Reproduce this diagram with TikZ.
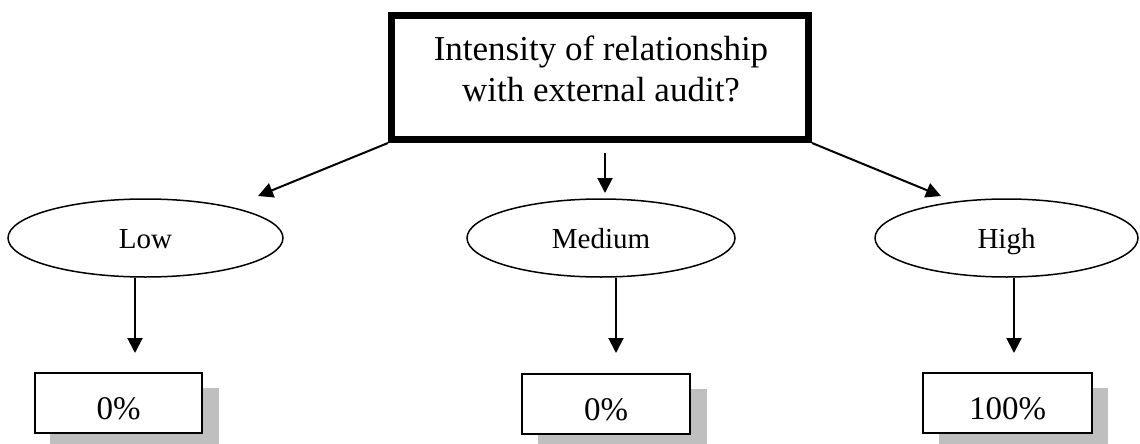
\documentclass[tikz,border=0pt]{standalone}
\usepackage{fontspec}
\setmainfont{Liberation Serif}
\usetikzlibrary{arrows.meta,shapes.geometric}
\begin{document}
\begin{tikzpicture}[x=1pt,y=-1pt,
  arr/.style={line width=2pt,-{Triangle[length=15pt,width=15pt]}},
  choice/.style={ellipse,draw,line width=1.5pt,minimum height=78pt,inner sep=0pt,
    text height=21pt,text depth=0pt,font=\fontsize{29}{34}\selectfont},
  result/.style={draw,line width=2pt,fill=white,minimum width=167pt,inner sep=0pt,
    minimum height=60pt,text height=33pt,text depth=0pt,font=\fontsize{33}{40}\selectfont},
  shade/.style={fill=black!25,draw=none,minimum width=169pt,minimum height=62pt},
  qtext/.style={anchor=base,inner sep=0pt,font=\fontsize{35}{42}\selectfont}]
\useasboundingbox (0,0) rectangle (1140,444);

% question box
\node[draw,line width=7pt,minimum width=417pt,minimum height=124pt,inner sep=0pt] (q) at (600,77.5) {};
\node[qtext] (q1) at (601,60) {Intensity of relationship};
\node[qtext] (q2) at (601,101.5) {with external audit?};

% answer ellipses
\node[choice,minimum width=275pt] (low) at (145.5,238) {Low};
\node[choice,minimum width=268pt] (med) at (601,238) {Medium};
\node[choice,minimum width=263pt] (high) at (1006.5,238) {High};

% shadows behind result boxes
\node[shade] (s1) at (134.5,419) {};
\node[shade] (s2) at (622,419.5) {};
\node[shade] (s3) at (1023.5,419) {};

% result boxes
\node[result] (r1) at (118.5,403) {0\%};
\node[result,minimum width=168pt] (r2) at (606,403.5) {0\%};
\node[result,minimum width=169pt] (r3) at (1007.5,403) {100\%};

% arrow end points
\coordinate (tl) at (258,196);
\coordinate (tr) at (941,196);
\coordinate (mt0) at (605,153);
\coordinate (mt1) at (605,193);
\coordinate (d1) at (135,353);
\coordinate (d2) at (616,353);
\coordinate (d3) at (1014,353);

% connectors
\draw[arr] (q.south west) -- (tl);
\draw[arr] (q.south east) -- (tr);
\draw[arr] (mt0) -- (mt1);
\draw[arr] (low.south -| d1) -- (d1);
\draw[arr] (med.south -| d2) -- (d2);
\draw[arr] (high.south -| d3) -- (d3);
\end{tikzpicture}
\end{document}
